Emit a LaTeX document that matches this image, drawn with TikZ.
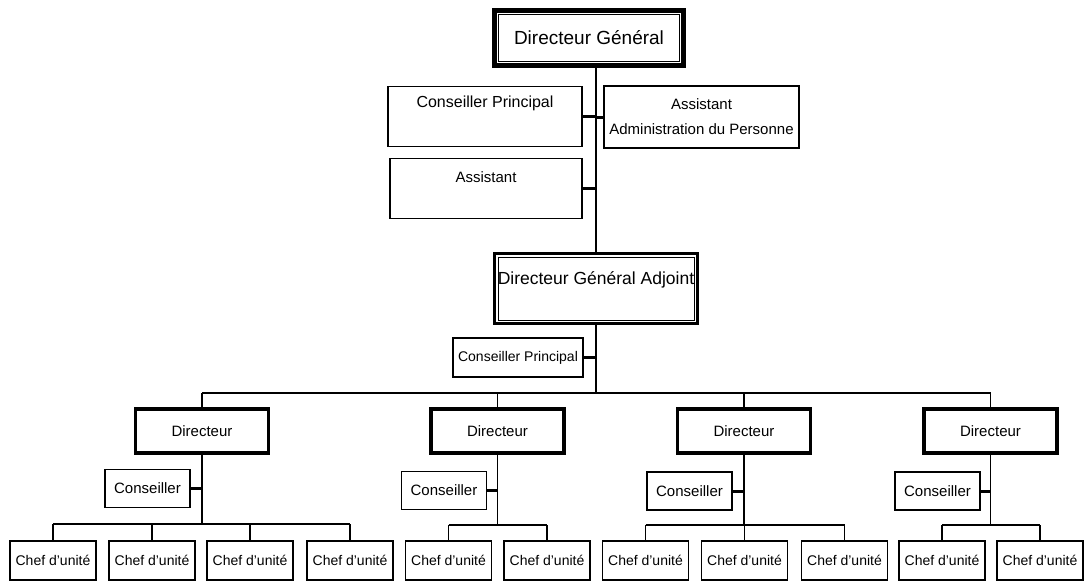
\documentclass[tikz,border=0pt]{standalone}
\usepackage{fontspec}
\setmainfont{Liberation Sans}
\usetikzlibrary{positioning}

\begin{document}
\begin{tikzpicture}[x=1pt,y=-1pt,
  box/.style={draw,line width=1.2pt,inner sep=3pt,font=\fontsize{15}{18}\selectfont},
  dir/.style={box,line width=3.5pt,minimum width=133pt,minimum height=44pt},
  cons/.style={box,minimum width=85pt,minimum height=38pt},
  chef/.style={box,minimum width=86pt,minimum height=39pt,font=\fontsize{14}{16}\selectfont},
  link/.style={line width=1.3pt},
  stub/.style={line width=3pt},
  bus/.style={line width=2.2pt}]
\useasboundingbox (0,0) rectangle (1084,582);
\node[box,line width=4.5pt,minimum width=189pt,minimum height=55pt,font=\fontsize{19}{22}\selectfont] (dg) at (589,38) {Directeur Général};
\draw[line width=0.8pt] ([xshift=6pt,yshift=-6pt]dg.north west) rectangle ([xshift=-6pt,yshift=6pt]dg.south east);
\node[box,anchor=north,minimum width=194pt,text height=18pt,text depth=36pt,font=\fontsize{16}{19}\selectfont] (cp) at (485,86) {Conseiller Principal};
\node[box,minimum width=195pt,minimum height=62pt,align=center] (adm) at (701.5,117) {Assistant\\[7pt]Administration du Personne};
\node[box,anchor=north,minimum width=192pt,text height=21pt,text depth=33pt] (asst) at (486,158) {Assistant};
\node[box,anchor=north,line width=3pt,minimum width=203pt,text height=28pt,text depth=36pt,font=\fontsize{17.5}{20}\selectfont] (dga) at (596,252) {Directeur Général Adjoint};
\draw[line width=0.8pt] ([xshift=5pt,yshift=-5pt]dga.north west) rectangle ([xshift=-5pt,yshift=5pt]dga.south east);
\node[box,minimum width=130pt,minimum height=39pt,font=\fontsize{14}{16}\selectfont] (cp2) at (518,357.5) {Conseiller Principal};
\coordinate (bus) at (596,393);
\node[dir] (d1) at (202,431) {Directeur};
\node[dir] (d2) at (497.5,431) {Directeur};
\node[dir] (d3) at (744,431) {Directeur};
\node[dir] (d4) at (990.5,431) {Directeur};
\node[cons] (c1) at (147.5,488.5) {Conseiller};
\node[cons] (c2) at (444,490.5) {Conseiller};
\node[cons] (c3) at (689.5,491) {Conseiller};
\node[cons] (c4) at (937.5,491) {Conseiller};
\coordinate (s1) at (202,524);
\coordinate (s2) at (497.5,525);
\coordinate (s3) at (744,525);
\coordinate (s4) at (990.5,525);
\node[chef] (u11) at (53,560.5) {Chef d’unité};
\node[chef] (u12) at (152,560.5) {Chef d’unité};
\node[chef] (u13) at (250,560.5) {Chef d’unité};
\node[chef] (u14) at (350,560.5) {Chef d’unité};
\node[chef] (u21) at (448.5,560.5) {Chef d’unité};
\node[chef] (u22) at (547,560.5) {Chef d’unité};
\node[chef] (u31) at (645.5,560.5) {Chef d’unité};
\node[chef] (u32) at (744.5,560.5) {Chef d’unité};
\node[chef] (u33) at (844.5,560.5) {Chef d’unité};
\node[chef] (u41) at (942,560.5) {Chef d’unité};
\node[chef] (u42) at (1040,560.5) {Chef d’unité};
\draw[link] (dga.north |- dg.south) -- (dga.north);
\draw[stub] (cp.east) -- (cp.east -| dga.north);
\draw[stub] (adm.west) -- (adm.west -| dga.north);
\draw[stub] (asst.east) -- (asst.east -| dga.north);
\draw[link] (dga.south) -- (bus);
\draw[stub] (cp2.east) -- (cp2.east -| dga.south);
\draw[bus] (d1.north |- bus) -- (d4.north |- bus);
\draw[link] (d1.north |- bus) -- (d1.north) (d2.north |- bus) -- (d2.north)
  (d3.north |- bus) -- (d3.north) (d4.north |- bus) -- (d4.north);
\draw[link] (d1.south) -- (s1) (d2.south) -- (s2) (d3.south) -- (s3) (d4.south) -- (s4);
\draw[stub] (c1.east) -- (c1.east -| d1.south);
\draw[stub] (c2.east) -- (c2.east -| d2.south);
\draw[stub] (c3.east) -- (c3.east -| d3.south);
\draw[stub] (c4.east) -- (c4.east -| d4.south);
\draw[bus] (u11.north |- s1) -- (u14.north |- s1);
\draw[bus] (u21.north |- s2) -- (u22.north |- s2);
\draw[bus] (u31.north |- s3) -- (u33.north |- s3);
\draw[bus] (u41.north |- s4) -- (u42.north |- s4);
\draw[link] (u11.north |- s1) -- (u11.north) (u12.north |- s1) -- (u12.north)
  (u13.north |- s1) -- (u13.north) (u14.north |- s1) -- (u14.north);
\draw[link] (u21.north |- s2) -- (u21.north) (u22.north |- s2) -- (u22.north);
\draw[link] (u31.north |- s3) -- (u31.north) (u32.north |- s3) -- (u32.north)
  (u33.north |- s3) -- (u33.north);
\draw[link] (u41.north |- s4) -- (u41.north) (u42.north |- s4) -- (u42.north);
\end{tikzpicture}
\end{document}
